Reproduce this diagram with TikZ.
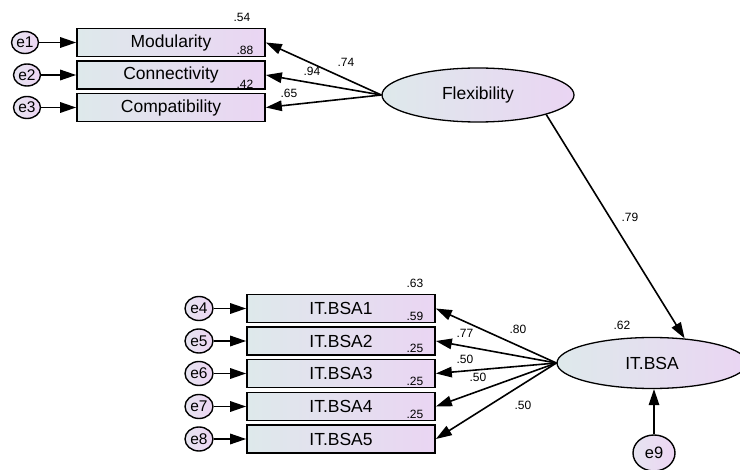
\documentclass[tikz,border=0pt]{standalone}
\usepackage{fontspec}
\setmainfont{Liberation Sans}
\usetikzlibrary{arrows.meta,shapes.geometric}
\definecolor{boxL}{RGB}{222,233,235}
\definecolor{boxR}{RGB}{234,213,243}
\definecolor{errL}{RGB}{230,228,240}
\definecolor{errR}{RGB}{237,213,243}
\tikzset{
  obs/.style={draw, line width=1.7pt, minimum width=188pt, minimum height=28pt, inner sep=0pt,
    left color=boxL, right color=boxR, font=\fontsize{17.5}{19}\selectfont},
  lat/.style={ellipse, draw, line width=1.3pt, inner sep=0pt,
    left color=boxL, right color=boxR, font=\fontsize{17.5}{19}\selectfont},
  err/.style={ellipse, draw, line width=1.4pt, minimum width=27pt, minimum height=22pt, inner sep=0pt,
    left color=errL, right color=errR, font=\fontsize{15.5}{17}\selectfont},
  arr/.style={line width=1.6pt, -{Triangle[length=16pt,width=10.5pt]}},
  num/.style={font=\fontsize{12}{13}\selectfont, inner sep=0pt},
}
\begin{document}
\begin{tikzpicture}[x=1pt,y=-1pt]
\useasboundingbox (0,0) rectangle (740,470);
% top group
\node[obs] (m1) at (171,42.5) {Modularity};
\node[obs] (m2) at (171,75) {Connectivity};
\node[obs] (m3) at (171,107.5) {Compatibility};
\node[err] (e1) at (25,42.5) {e1};
\node[err] (e2) at (27,75) {e2};
\node[err] (e3) at (27,107.5) {e3};
\node[lat, minimum width=192pt, minimum height=54pt] (flex) at (478,95) {Flexibility};
% bottom group
\node[obs] (b1) at (341,308.5) {IT.BSA1};
\node[obs] (b2) at (341,341) {IT.BSA2};
\node[obs] (b3) at (341,373.5) {IT.BSA3};
\node[obs] (b4) at (341,406.5) {IT.BSA4};
\node[obs] (b5) at (341,439) {IT.BSA5};
\node[err, minimum width=28pt, minimum height=24pt] (e4) at (199,308.5) {e4};
\node[err, minimum width=28pt, minimum height=24pt] (e5) at (199,341) {e5};
\node[err, minimum width=28pt, minimum height=24pt] (e6) at (199,373.5) {e6};
\node[err, minimum width=28pt, minimum height=24pt] (e7) at (199,406.5) {e7};
\node[err, minimum width=28pt, minimum height=24pt] (e8) at (199,439) {e8};
\node[lat, minimum width=190pt, minimum height=51pt] (bsa) at (652,363) {IT.BSA};
\node[err, minimum width=42pt, minimum height=36pt, font=\fontsize{16.5}{18}\selectfont] (e9) at (654,453) {e9};
% arrows
\foreach \i in {1,2,3} \draw[arr] (e\i) -- (m\i.west);
\foreach \i in {1,2,3} \draw[arr] (flex.west) -- (m\i.east);
\foreach \i/\j in {4/1,5/2,6/3,7/4,8/5} \draw[arr] (e\i) -- (b\j.west);
\foreach \j in {1,...,5} \draw[arr] (bsa.west) -- (b\j.east);
\draw[arr] (flex.-16.6) -- (bsa.37);
\draw[arr] (e9.north) -- (e9.north |- bsa.south);
% numbers
\node[num] (n54) at (242,17) {.54};
\node[num] (n88) at (245,50) {.88};
\node[num] (n42) at (245,84) {.42};
\node[num] (n74) at (346,62) {.74};
\node[num] (n94) at (312,71) {.94};
\node[num] (n65) at (289,93) {.65};
\node[num] (n79) at (630,217) {.79};
\node[num] (n63) at (415,283) {.63};
\node[num] (n59) at (415,316) {.59};
\node[num] (n25a) at (415,348) {.25};
\node[num] (n25b) at (415,381) {.25};
\node[num] (n25c) at (415,414) {.25};
\node[num] (n62) at (622,325) {.62};
\node[num] (n80) at (518,329) {.80};
\node[num] (n77) at (465,333) {.77};
\node[num] (n50a) at (465,359) {.50};
\node[num] (n50b) at (478,377) {.50};
\node[num] (n50c) at (523,405) {.50};
\end{tikzpicture}
\end{document}
